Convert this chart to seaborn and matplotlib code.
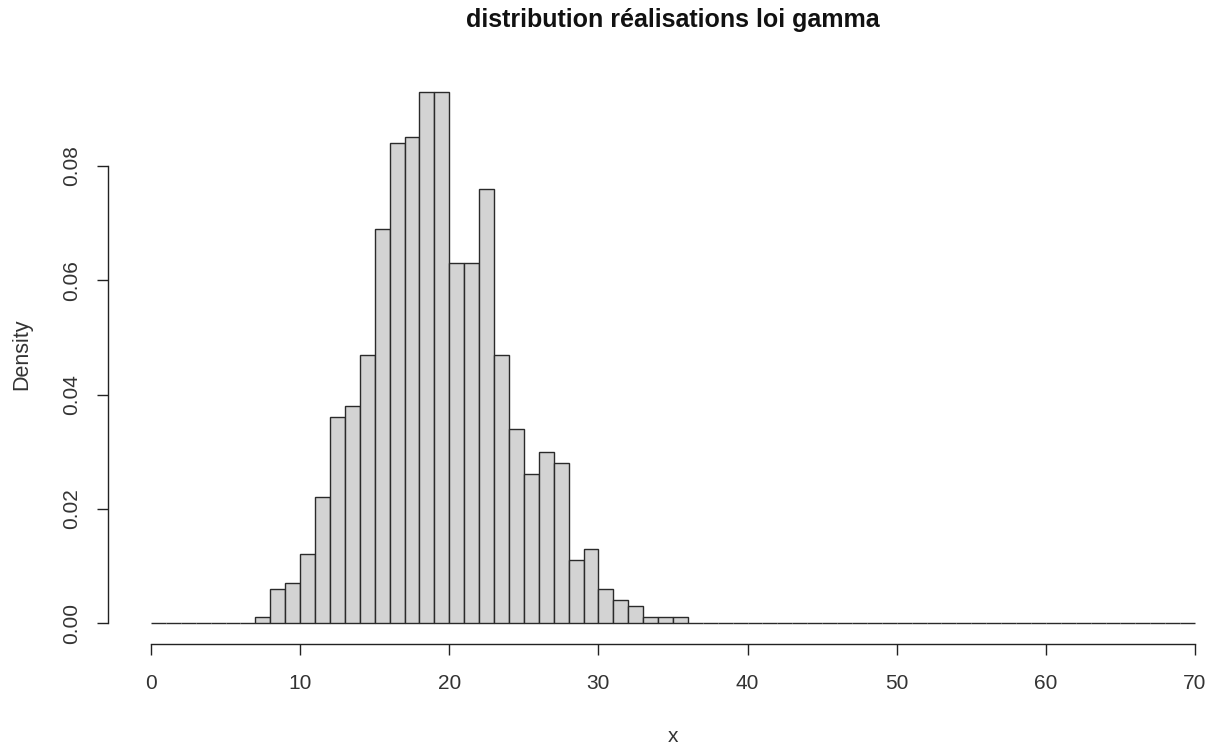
import numpy as np
import pandas as pd
import matplotlib
matplotlib.use("Agg")
import matplotlib.pyplot as plt
import seaborn as sns

# ---- data ----
x_min, x_max = 0, 70          # histogram breaks range (bin width 1)
nonzero_bin_starts = list(range(7, 36))
nonzero_densities = [0.001, 0.006, 0.007, 0.012, 0.022, 0.036, 0.038, 0.047,
                     0.069, 0.084, 0.085, 0.093, 0.093, 0.063, 0.063, 0.076,
                     0.047, 0.034, 0.026, 0.030, 0.028, 0.011, 0.013, 0.006,
                     0.004, 0.003, 0.001, 0.001, 0.001]
x_ticks = [0, 10, 20, 30, 40, 50, 60, 70]
y_ticks = [0.00, 0.02, 0.04, 0.06, 0.08]
y_tick_labels = ["0.00", "0.02", "0.04", "0.06", "0.08"]
title = "distribution réalisations loi gamma"
xlabel = "x"
ylabel = "Density"

# build full table of bins (empty bins have density 0)
mids = np.arange(x_min, x_max) + 0.5
dens = np.zeros(len(mids))
for s, d in zip(nonzero_bin_starts, nonzero_densities):
    dens[s - x_min] = d
df = pd.DataFrame({"mid": mids, "density": dens})

sns.set_style("white")
plt.rcParams["font.family"] = ["Liberation Sans", "DejaVu Sans"]

W, H = 1216, 749
fig = plt.figure(figsize=(W / 100, H / 100), dpi=100)

# axes in pixel coordinates (R-like plot region)
px_per_x = (1195 - 151) / 70.0
left_px = 109.2
right_px = 1216.0
xl0 = 0 - (151 - left_px) / px_per_x
xl1 = 70 + (right_px - 1195) / px_per_x
px_per_y = (623 - 166) / 0.08
top_px = 70.5
bot_px = 644.3
yl0 = 0 - (bot_px - 623) / px_per_y
yl1 = 0 + (623 - top_px) / px_per_y

ax = fig.add_axes([left_px / W, 1 - bot_px / H, (right_px - left_px) / W, (bot_px - top_px) / H])

sns.histplot(data=df, x="mid", weights="density", binwidth=1, binrange=(x_min, x_max),
             stat="count", color="#d3d3d3", edgecolor="#2a2a2a", linewidth=1.0,
             alpha=1.0, ax=ax)

ax.set_xlim(xl0, xl1)
ax.set_ylim(yl0, yl1)

for s in ["top", "right"]:
    ax.spines[s].set_visible(False)
ax.spines["left"].set_bounds(0, 0.08)
ax.spines["bottom"].set_bounds(0, 70)
ax.spines["left"].set_position(("outward", 1))
for s in ["left", "bottom"]:
    ax.spines[s].set_color("#222222")
    ax.spines[s].set_linewidth(1.0)

ax.set_xticks(x_ticks)
ax.set_xticklabels([str(t) for t in x_ticks])
ax.set_yticks(y_ticks)
ax.set_yticklabels(y_tick_labels, rotation=90, va="center")
ax.tick_params(axis="both", direction="out", length=8, width=1.0, color="#222222",
               labelsize=15, labelcolor="#333333", bottom=True, left=True)
ax.tick_params(axis="x", pad=13.5)
ax.tick_params(axis="y", pad=11.5)
ax.set_xlabel("")
ax.set_ylabel("")

cx = (109.2 + 1236.8) / 2 / W
fig.text(cx, 1 - 20 / H, title, ha="center", va="center", fontsize=18,
         fontweight="bold", color="#111111")
fig.text(cx, 1 - 736 / H, xlabel, ha="center", va="center", fontsize=15, color="#333333")
fig.text(22 / W, 1 - 354 / H, ylabel, ha="center", va="center", rotation=90,
         fontsize=15.5, color="#333333")

fig.savefig("out.png", dpi=100)
